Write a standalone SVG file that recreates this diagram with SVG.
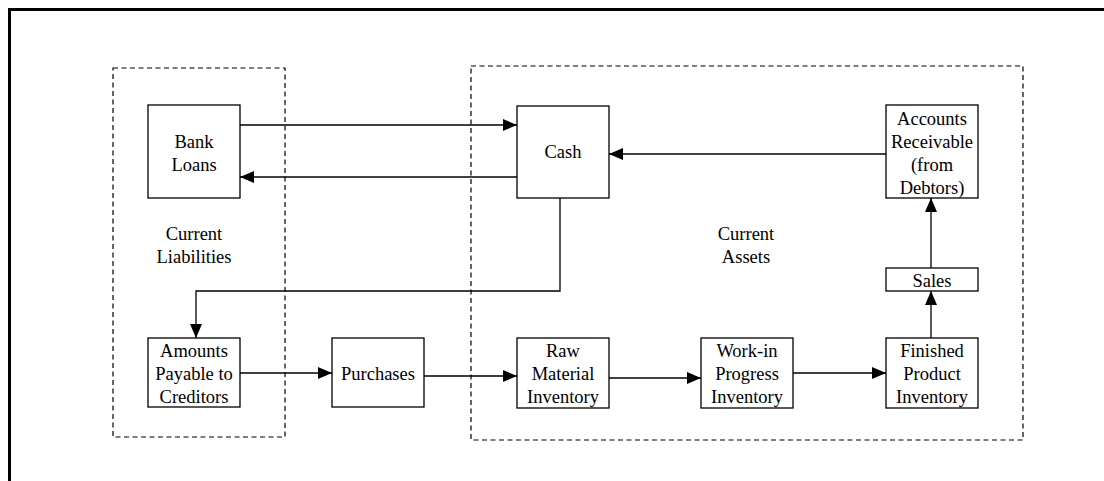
<svg xmlns="http://www.w3.org/2000/svg" width="1104" height="481" viewBox="0 0 1104 481">
<style>
.box{fill:#fff;stroke:#000;stroke-width:1.3}
.grp{fill:none;stroke:#000;stroke-width:1.2;stroke-dasharray:5,3.5}
.con{fill:none;stroke:#000;stroke-width:1.3}
text{font-family:"Liberation Serif","Times New Roman",serif;font-size:18.5px;fill:#000;text-anchor:middle}
</style>
<defs>
<marker id="ah" markerUnits="userSpaceOnUse" markerWidth="15" markerHeight="13" refX="14" refY="6" orient="auto">
<path d="M0,0 L14,6 L0,12 z" fill="#000"/>
</marker>
</defs>
<rect width="1104" height="481" fill="#fff"/>
<path d="M9.5,481 V9.5 H1104" fill="none" stroke="#000" stroke-width="3"/>
<g id="current-liabilities">
<rect class="grp" x="113" y="68" width="172" height="369"/>
<text x="194" y="240">Current</text>
<text x="194" y="263">Liabilities</text>
</g>
<g id="current-assets">
<rect class="grp" x="471" y="66" width="552" height="374"/>
<text x="746" y="240">Current</text>
<text x="746" y="263">Assets</text>
</g>
<g id="connectors">
<path class="con" d="M240,125 H517" marker-end="url(#ah)"/>
<path class="con" d="M517,177 H240" marker-end="url(#ah)"/>
<path class="con" d="M886,154 H609" marker-end="url(#ah)"/>
<path class="con" d="M560,198 V291 H196 V338" marker-end="url(#ah)"/>
<path class="con" d="M240,373 H332" marker-end="url(#ah)"/>
<path class="con" d="M424,376 H517" marker-end="url(#ah)"/>
<path class="con" d="M609,378 H701" marker-end="url(#ah)"/>
<path class="con" d="M793,373 H886" marker-end="url(#ah)"/>
<path class="con" d="M931,338 V291" marker-end="url(#ah)"/>
<path class="con" d="M931,268 V198" marker-end="url(#ah)"/>
</g>
<g id="bank-loans">
<rect class="box" x="148" y="105" width="92" height="93"/>
<text x="194" y="148">Bank</text>
<text x="194" y="171">Loans</text>
</g>
<g id="cash">
<rect class="box" x="517" y="106" width="92" height="92"/>
<text x="563" y="158">Cash</text>
</g>
<g id="accounts-receivable">
<rect class="box" x="886" y="105" width="92" height="93"/>
<text x="932" y="125">Accounts</text>
<text x="932" y="148">Receivable</text>
<text x="932" y="171">(from</text>
<text x="932" y="194">Debtors)</text>
</g>
<g id="sales">
<rect class="box" x="886" y="268" width="92" height="23"/>
<text x="932" y="287">Sales</text>
</g>
<g id="amounts-payable">
<rect class="box" x="148" y="338" width="92" height="69"/>
<text x="194" y="357">Amounts</text>
<text x="194" y="380">Payable to</text>
<text x="194" y="403">Creditors</text>
</g>
<g id="purchases">
<rect class="box" x="332" y="338" width="92" height="69"/>
<text x="378" y="380">Purchases</text>
</g>
<g id="raw-material">
<rect class="box" x="517" y="338" width="92" height="70"/>
<text x="563" y="357">Raw</text>
<text x="563" y="380">Material</text>
<text x="563" y="403">Inventory</text>
</g>
<g id="work-in-progress">
<rect class="box" x="701" y="338" width="92" height="70"/>
<text x="747" y="357">Work-in</text>
<text x="747" y="380">Progress</text>
<text x="747" y="403">Inventory</text>
</g>
<g id="finished-product">
<rect class="box" x="886" y="338" width="92" height="70"/>
<text x="932" y="357">Finished</text>
<text x="932" y="380">Product</text>
<text x="932" y="403">Inventory</text>
</g>
</svg>
